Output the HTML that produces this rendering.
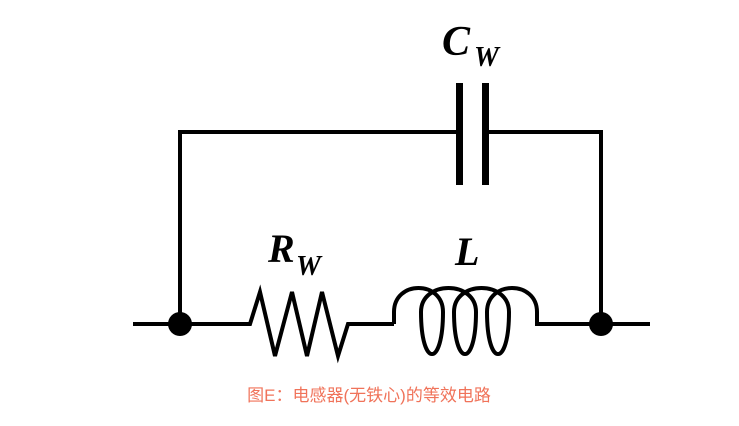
<!DOCTYPE html>
<html><head><meta charset="utf-8"><style>
html,body{margin:0;padding:0;background:#fff;width:739px;height:426px;overflow:hidden}
</style></head><body>
<svg width="739" height="426" viewBox="0 0 739 426" xmlns="http://www.w3.org/2000/svg">
<g fill="none" stroke="#000" stroke-width="4" stroke-linejoin="miter">
<path d="M133 324 H250 L260 292 L275 356 L292 292 L307 356 L322 292 L338 356 L348 324 H394"/>
<path d="M394 324 V312 C394 280 443 280 443 312 C443 368 421 368 421 312 C421 280 476 280 476 312 C476 368 454 368 454 312 C454 280 509 280 509 312 C509 368 487 368 487 312 C487 280 537 280 537 312 V324 H650"/>
<path d="M180 324 V132 H459 M486 132 H601 V324"/>
</g>
<rect x="456" y="83" width="7" height="102" fill="#000"/>
<rect x="482" y="83" width="7" height="102" fill="#000"/>
<circle cx="180" cy="324" r="12" fill="#000"/>
<circle cx="601" cy="324" r="12" fill="#000"/>
<g font-family="Liberation Serif, serif" font-style="italic" font-weight="bold" fill="#000">
<text x="442" y="55" font-size="42">C</text>
<text x="474" y="66" font-size="28">W</text>
<text x="268" y="262" font-size="40">R</text>
<text x="296" y="275" font-size="28">W</text>
<text x="455" y="265" font-size="40">L</text>
</g>
<text x="369" y="401" text-anchor="middle" font-family="Liberation Sans, 'Noto Sans CJK SC', sans-serif" font-size="17" fill="#f0735a">图E：电感器(无铁心)的等效电路</text>
</svg>
</body></html>
